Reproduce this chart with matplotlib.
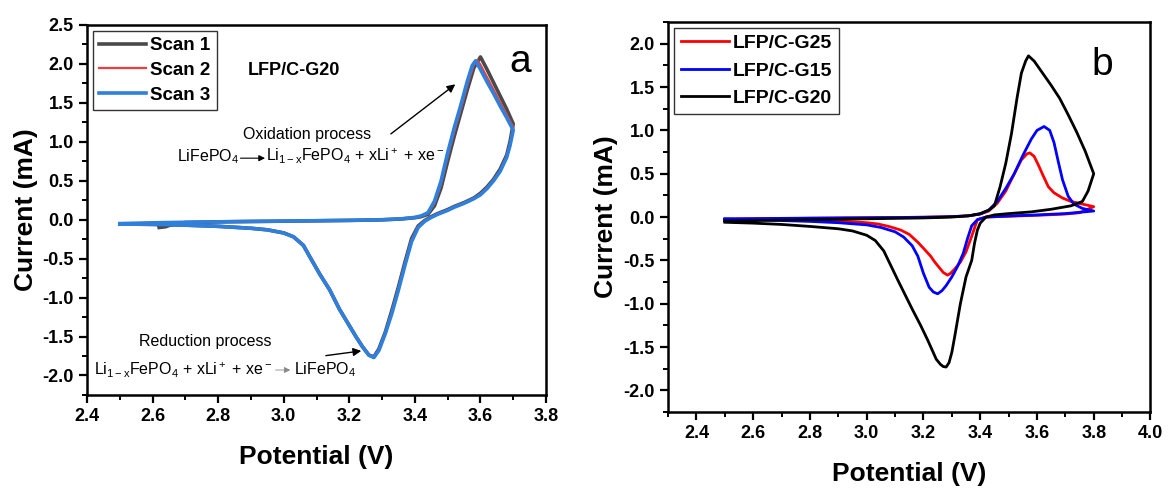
import matplotlib
matplotlib.use("Agg")
from matplotlib import pyplot as plt
from matplotlib.ticker import MultipleLocator

plt.rcParams['font.family'] = ['Liberation Sans', 'DejaVu Sans']
plt.rcParams['font.weight'] = 'bold'
plt.rcParams['axes.unicode_minus'] = False
plt.rcParams['mathtext.fontset'] = 'custom'
plt.rcParams['mathtext.rm'] = 'Liberation Sans:regular'
plt.rcParams['mathtext.it'] = 'Liberation Sans:italic:regular'
plt.rcParams['mathtext.bf'] = 'Liberation Sans:bold'

# ---- panel a: three scans of LFP/C-G20 (V, mA) ----
scan3_v = [2.50, 2.60, 2.70, 2.80, 2.90, 3.00, 3.10, 3.20, 3.30, 3.36, 3.40, 3.42, 3.44,
           3.46, 3.48, 3.50, 3.52, 3.54, 3.56, 3.575, 3.585, 3.60, 3.62, 3.64, 3.66, 3.68,
           3.70, 3.69, 3.68, 3.66, 3.64, 3.62, 3.60, 3.58, 3.55, 3.52, 3.50, 3.47, 3.45,
           3.43, 3.41, 3.39, 3.37, 3.35, 3.33, 3.31, 3.29, 3.275, 3.26, 3.24, 3.22, 3.20,
           3.17, 3.14, 3.11, 3.08, 3.06, 3.03, 3.00, 2.95, 2.90, 2.80, 2.70, 2.60, 2.50]
scan3_i = [-0.050, -0.040, -0.033, -0.027, -0.022, -0.018, -0.013, -0.008, 0.000, 0.012,
           0.030, 0.050, 0.090, 0.240, 0.500, 0.860, 1.180, 1.470, 1.780, 1.980, 2.040,
           1.930, 1.770, 1.620, 1.460, 1.310, 1.150, 0.950, 0.800, 0.620, 0.500, 0.400,
           0.320, 0.270, 0.210, 0.160, 0.120, 0.070, 0.030, -0.020, -0.100, -0.280,
           -0.580, -0.900, -1.200, -1.460, -1.680, -1.770, -1.740, -1.630, -1.500,
           -1.360, -1.150, -0.900, -0.700, -0.480, -0.330, -0.220, -0.170, -0.130,
           -0.110, -0.085, -0.070, -0.060, -0.055]

scan2_v = [2.50, 2.60, 2.70, 2.80, 2.90, 3.00, 3.10, 3.20, 3.30, 3.36, 3.40, 3.42, 3.44,
           3.46, 3.48, 3.50, 3.52, 3.54, 3.56, 3.58, 3.59, 3.60, 3.62, 3.64, 3.66, 3.68,
           3.70, 3.69, 3.68, 3.66, 3.64, 3.62, 3.60, 3.58, 3.55, 3.52, 3.50, 3.47, 3.45,
           3.43, 3.41, 3.39, 3.37, 3.35, 3.33, 3.31, 3.29, 3.275, 3.26, 3.24, 3.22, 3.20,
           3.17, 3.14, 3.11, 3.08, 3.06, 3.03, 3.00, 2.95, 2.90, 2.80, 2.70, 2.60, 2.50]
scan2_i = [-0.050, -0.040, -0.033, -0.027, -0.022, -0.018, -0.013, -0.008, 0.000, 0.012,
           0.028, 0.046, 0.080, 0.210, 0.460, 0.810, 1.130, 1.420, 1.730, 1.990, 2.050,
           1.990, 1.830, 1.670, 1.510, 1.350, 1.190, 0.970, 0.810, 0.630, 0.510, 0.410,
           0.330, 0.275, 0.215, 0.165, 0.125, 0.075, 0.035, -0.015, -0.090, -0.260,
           -0.560, -0.880, -1.180, -1.450, -1.670, -1.760, -1.730, -1.620, -1.490,
           -1.350, -1.140, -0.890, -0.690, -0.470, -0.320, -0.215, -0.165, -0.130,
           -0.110, -0.085, -0.070, -0.060, -0.055]

scan1_v = [2.62, 2.64, 2.66, 2.70, 2.80, 2.90, 3.00, 3.10, 3.20, 3.30, 3.36, 3.40, 3.42,
           3.44, 3.46, 3.48, 3.50, 3.52, 3.54, 3.56, 3.58, 3.60, 3.62, 3.64, 3.66, 3.68,
           3.70, 3.69, 3.68, 3.66, 3.64, 3.62, 3.60, 3.58, 3.55, 3.52, 3.50, 3.47, 3.45,
           3.43, 3.41, 3.39, 3.37, 3.35, 3.33, 3.31, 3.29, 3.275, 3.26, 3.24, 3.22, 3.20,
           3.17, 3.14, 3.11, 3.08, 3.06, 3.03, 3.00, 2.95, 2.90, 2.80, 2.70, 2.60, 2.50]
scan1_i = [-0.100, -0.090, -0.060, -0.036, -0.028, -0.023, -0.019, -0.014, -0.009, -0.002,
           0.010, 0.025, 0.040, 0.070, 0.180, 0.410, 0.750, 1.070, 1.370, 1.670, 1.950,
           2.090, 1.930, 1.760, 1.590, 1.420, 1.230, 1.000, 0.830, 0.650, 0.520, 0.420,
           0.340, 0.280, 0.220, 0.170, 0.130, 0.080, 0.040, -0.010, -0.080, -0.240,
           -0.540, -0.860, -1.160, -1.440, -1.660, -1.760, -1.740, -1.630, -1.500,
           -1.360, -1.150, -0.900, -0.700, -0.480, -0.330, -0.220, -0.170, -0.130,
           -0.110, -0.085, -0.070, -0.060, -0.055]

# ---- panel b: comparison of samples ----
g25_v = [2.50, 2.60, 2.70, 2.80, 2.90, 3.00, 3.10, 3.20, 3.30, 3.36, 3.40, 3.43, 3.46,
         3.49, 3.52, 3.545, 3.565, 3.575, 3.59, 3.605, 3.62, 3.64, 3.66, 3.69, 3.72, 3.76,
         3.80, 3.75, 3.70, 3.60, 3.50, 3.42, 3.39, 3.37, 3.35, 3.33, 3.31, 3.295, 3.285,
         3.27, 3.255, 3.24, 3.225, 3.20, 3.18, 3.15, 3.12, 3.08, 3.04, 3.00, 2.93, 2.85,
         2.72, 2.60, 2.50]
g25_i = [-0.025, -0.020, -0.017, -0.014, -0.011, -0.008, -0.005, -0.002, 0.005, 0.015,
         0.035, 0.070, 0.160, 0.300, 0.500, 0.660, 0.730, 0.740, 0.700, 0.600, 0.490,
         0.350, 0.280, 0.220, 0.180, 0.150, 0.120, 0.050, 0.035, 0.020, 0.010, 0.000,
         -0.030, -0.220, -0.400, -0.520, -0.600, -0.650, -0.670, -0.640, -0.580,
         -0.520, -0.450, -0.360, -0.290, -0.200, -0.150, -0.110, -0.080, -0.065,
         -0.050, -0.040, -0.030, -0.030, -0.030]

g15_v = [2.50, 2.60, 2.70, 2.80, 2.90, 3.00, 3.10, 3.20, 3.30, 3.36, 3.40, 3.43, 3.46,
         3.49, 3.52, 3.55, 3.58, 3.60, 3.625, 3.645, 3.66, 3.675, 3.69, 3.71, 3.73, 3.76,
         3.80, 3.75, 3.70, 3.60, 3.50, 3.42, 3.39, 3.37, 3.355, 3.34, 3.32, 3.30, 3.28,
         3.265, 3.25, 3.235, 3.22, 3.20, 3.18, 3.16, 3.13, 3.10, 3.05, 3.00, 2.90, 2.80,
         2.70, 2.60, 2.50]
g15_i = [-0.020, -0.018, -0.015, -0.012, -0.010, -0.008, -0.005, -0.002, 0.005, 0.015,
         0.035, 0.080, 0.180, 0.330, 0.500, 0.710, 0.900, 1.000, 1.045, 1.000, 0.860,
         0.640, 0.430, 0.240, 0.150, 0.100, 0.070, 0.055, 0.040, 0.025, 0.012, 0.000,
         -0.030, -0.100, -0.250, -0.420, -0.570, -0.690, -0.790, -0.850, -0.885,
         -0.865, -0.810, -0.650, -0.450, -0.330, -0.230, -0.170, -0.120, -0.090,
         -0.065, -0.050, -0.040, -0.030, -0.025]

g20_v = [2.50, 2.60, 2.70, 2.80, 2.90, 3.00, 3.10, 3.20, 3.30, 3.36, 3.40, 3.43, 3.45,
         3.47, 3.49, 3.51, 3.53, 3.545, 3.56, 3.57, 3.59, 3.62, 3.65, 3.68, 3.71, 3.74,
         3.77, 3.80, 3.78, 3.76, 3.72, 3.65, 3.58, 3.50, 3.45, 3.42, 3.40, 3.39, 3.38,
         3.37, 3.35, 3.33, 3.31, 3.30, 3.29, 3.28, 3.27, 3.26, 3.245, 3.215, 3.19, 3.16,
         3.11, 3.06, 3.03, 3.00, 2.95, 2.90, 2.80, 2.70, 2.60, 2.50]
g20_i = [-0.045, -0.040, -0.035, -0.030, -0.025, -0.020, -0.015, -0.010, 0.000, 0.015,
         0.040, 0.080, 0.130, 0.350, 0.620, 0.960, 1.380, 1.660, 1.800, 1.860, 1.800,
         1.660, 1.520, 1.370, 1.180, 0.980, 0.760, 0.500, 0.300, 0.180, 0.130, 0.090,
         0.060, 0.040, 0.025, 0.000, -0.070, -0.150, -0.300, -0.500, -0.690, -1.000,
         -1.380, -1.560, -1.680, -1.730, -1.725, -1.700, -1.640, -1.420, -1.250, -1.060,
         -0.730, -0.390, -0.270, -0.210, -0.160, -0.135, -0.108, -0.085, -0.070, -0.060]


def style_axes(ax, ylim, xlim, ylabel_pad):
    ax.set_xlim(*xlim)
    ax.set_ylim(*ylim)
    ax.xaxis.set_major_locator(MultipleLocator(0.2))
    ax.xaxis.set_minor_locator(MultipleLocator(0.1))
    ax.yaxis.set_major_locator(MultipleLocator(0.5))
    ax.yaxis.set_minor_locator(MultipleLocator(0.25))
    ax.tick_params(which='major', direction='out', length=6, width=1.6, labelsize=13)
    ax.tick_params(which='minor', direction='out', length=3.5, width=1.4)
    for sp in ax.spines.values():
        sp.set_linewidth(1.8)
    ax.set_xlabel('Potential (V)', fontsize=19, fontweight='bold', labelpad=14)
    ax.set_ylabel('Current (mA)', fontsize=19, fontweight='bold', labelpad=ylabel_pad)


def small_arrow(ax, x0, x1, y, color, lw):
    ax.annotate('', xy=(x1, y), xytext=(x0, y),
                arrowprops=dict(arrowstyle='-|>', color=color, lw=lw,
                                mutation_scale=9, shrinkA=0, shrinkB=0))


fig = plt.figure(figsize=(11.68, 4.9), dpi=100)
ax1 = fig.add_axes([0.0745, 0.194, 0.393, 0.755])
ax2 = fig.add_axes([0.572, 0.159, 0.413, 0.796])

# panel a
ax1.plot(scan1_v, scan1_i, color='#4a4a4a', lw=2.6, label='Scan 1')
ax1.plot(scan2_v, scan2_i, color='#f03c3c', lw=1.6, label='Scan 2')
ax1.plot(scan3_v, scan3_i, color='#2f7fdc', lw=2.6, label='Scan 3')
style_axes(ax1, (-2.25, 2.5), (2.4, 3.8), 3)
leg1 = ax1.legend(loc='upper left', fancybox=False, edgecolor='black', handlelength=2.5,
                  handletextpad=0.2, borderaxespad=0.3, labelspacing=0.4,
                  borderpad=0.35, prop={'weight': 'bold', 'size': 13.5})
leg1.get_frame().set_linewidth(1.0)
ax1.text(3.03, 1.92, 'LFP/C-G20', fontsize=13, fontweight='bold', ha='center', va='center')
ax1.text(3.72, 2.02, 'a', fontsize=28, fontweight='normal', ha='center', va='center')

ax1.text(3.07, 1.09, 'Oxidation process', fontsize=11.5, fontweight='normal',
         ha='center', va='center')
ax1.text(2.674, 0.81, r'LiFePO$_4$', fontsize=11.5, fontweight='normal',
         ha='left', va='center')
small_arrow(ax1, 2.868, 2.943, 0.79, 'black', 0.8)
ax1.text(2.946, 0.81, r'Li$_{\mathrm{1-x}}$FePO$_4$ + xLi$^+$ + xe$^-$',
         fontsize=11.5, fontweight='normal', ha='left', va='center')
ax1.annotate('', xy=(3.53, 1.76), xytext=(3.32, 1.08),
             arrowprops=dict(arrowstyle='-|>', color='black', lw=1.0, mutation_scale=12))

ax1.text(2.76, -1.565, 'Reduction process', fontsize=11.5, fontweight='normal',
         ha='center', va='center')
ax1.text(2.42, -1.93, r'Li$_{\mathrm{1-x}}$FePO$_4$ + xLi$^+$ + xe$^-$',
         fontsize=11.5, fontweight='normal', ha='left', va='center')
small_arrow(ax1, 2.975, 3.02, -1.93, '#888888', 0.6)
ax1.text(3.03, -1.93, r'LiFePO$_4$', fontsize=11.5, fontweight='normal',
         ha='left', va='center')
ax1.annotate('', xy=(3.245, -1.68), xytext=(3.12, -1.75),
             arrowprops=dict(arrowstyle='-|>', color='black', lw=1.0, mutation_scale=12))

# panel b
ax2.plot(g25_v, g25_i, color='#ff0000', lw=2.0, label='LFP/C-G25')
ax2.plot(g15_v, g15_i, color='#0000ff', lw=2.0, label='LFP/C-G15')
ax2.plot(g20_v, g20_i, color='black', lw=2.0, label='LFP/C-G20')
style_axes(ax2, (-2.25, 2.25), (2.3, 4.0), 4)
leg2 = ax2.legend(loc='upper left', fancybox=False, edgecolor='black', handlelength=2.5,
                  handletextpad=0.2, borderaxespad=0.3, labelspacing=0.5,
                  borderpad=0.35, prop={'weight': 'bold', 'size': 14})
leg2.get_frame().set_linewidth(1.0)
ax2.text(3.83, 1.75, 'b', fontsize=28, fontweight='normal', ha='center', va='center')

fig.savefig('out.png', dpi=100)
